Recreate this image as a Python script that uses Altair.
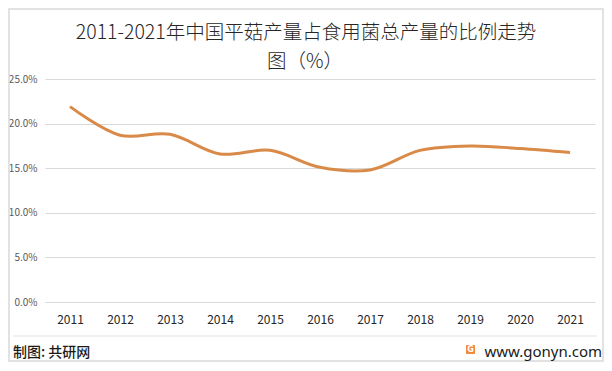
import altair as alt
import pandas as pd

years = ["2011", "2012", "2013", "2014", "2015", "2016", "2017", "2018", "2019", "2020", "2021"]
shares = [21.9, 18.7, 18.8, 16.6, 17.0, 15.1, 14.8, 17.0, 17.5, 17.2, 16.75]
y_ticks = [0, 5, 10, 15, 20, 25]
title_line1 = "2011-2021年中国平菇产量占食用菌总产量的比例走势"
title_line2 = "图（%）"
source_text = "制图: 共研网"
site_text = "www.gonyn.com"

df = pd.DataFrame({"year": years, "share": shares})
one = pd.DataFrame({"k": [0]})

FONT = "Noto Sans CJK SC"

line = alt.Chart(df).mark_line(
    interpolate="catmull-rom", strokeWidth=3, color="#DA8A48"
).encode(
    x=alt.X("year:O", sort=years,
            scale=alt.Scale(type="point", padding=0.5),
            axis=alt.Axis(title=None, labelAngle=0, domain=False, ticks=False,
                          labelFontSize=12, labelColor="#262626", labelPadding=12,
                          labelFont=FONT, grid=False)),
    y=alt.Y("share:Q",
            scale=alt.Scale(domain=[0, 25], nice=False),
            axis=alt.Axis(title=None, values=y_ticks, domain=False, ticks=False,
                          labelExpr="format(datum.value, '.1f') + '%'",
                          labelFontSize=10, labelColor="#595959", labelPadding=8,
                          labelFont=FONT, gridColor="#d9d9d9", gridWidth=1)),
)

border = alt.Chart(one).mark_rect(
    fill=None, stroke="#d9d9d9", strokeWidth=1.5
).encode(
    x=alt.value(-36), x2=alt.value(558), y=alt.value(-70), y2=alt.value(282)
)

footer_rule = alt.Chart(one).mark_rule(color="#e3e3e3", strokeWidth=1).encode(
    x=alt.value(-32), x2=alt.value(552), y=alt.value(257)
)

t1 = alt.Chart(one).mark_text(
    text=title_line1, align="center", baseline="middle", fontSize=19.5,
    font=FONT, fontWeight=300, color="#262626"
).encode(x=alt.value(261), y=alt.value(-46))

t2 = alt.Chart(one).mark_text(
    text=title_line2, align="center", baseline="middle", fontSize=19.5,
    font=FONT, fontWeight=300, color="#262626"
).encode(x=alt.value(260), y=alt.value(-17))

src = alt.Chart(one).mark_text(
    text=source_text, align="left", baseline="middle", fontSize=14,
    font=FONT, fontWeight=500, color="#1a1a1a"
).encode(x=alt.value(-32), y=alt.value(274))

site = alt.Chart(one).mark_text(
    text=site_text, align="right", baseline="middle", fontSize=15,
    font="Noto Sans", color="#1a1a1a"
).encode(x=alt.value(557), y=alt.value(273))

logo = alt.Chart(one).mark_rect(fill="#F08A3C", cornerRadius=1).encode(
    x=alt.value(421), x2=alt.value(430), y=alt.value(266), y2=alt.value(275)
)

logo_g = alt.Chart(one).mark_text(
    text="G", align="center", baseline="middle", fontSize=8,
    fontWeight="bold", font="DejaVu Sans", color="white"
).encode(x=alt.value(425.5), y=alt.value(270.8))

chart = alt.layer(border, footer_rule, line, t1, t2, src, site, logo, logo_g).properties(
    width=550,
    height=223,
    autosize=alt.AutoSizeParams(type="none"),
    padding={"left": 37, "top": 71, "right": 9, "bottom": 60},
    background="white",
).configure_view(stroke=None)

chart.save("out.html", embed_options={"renderer": "svg", "actions": False})
